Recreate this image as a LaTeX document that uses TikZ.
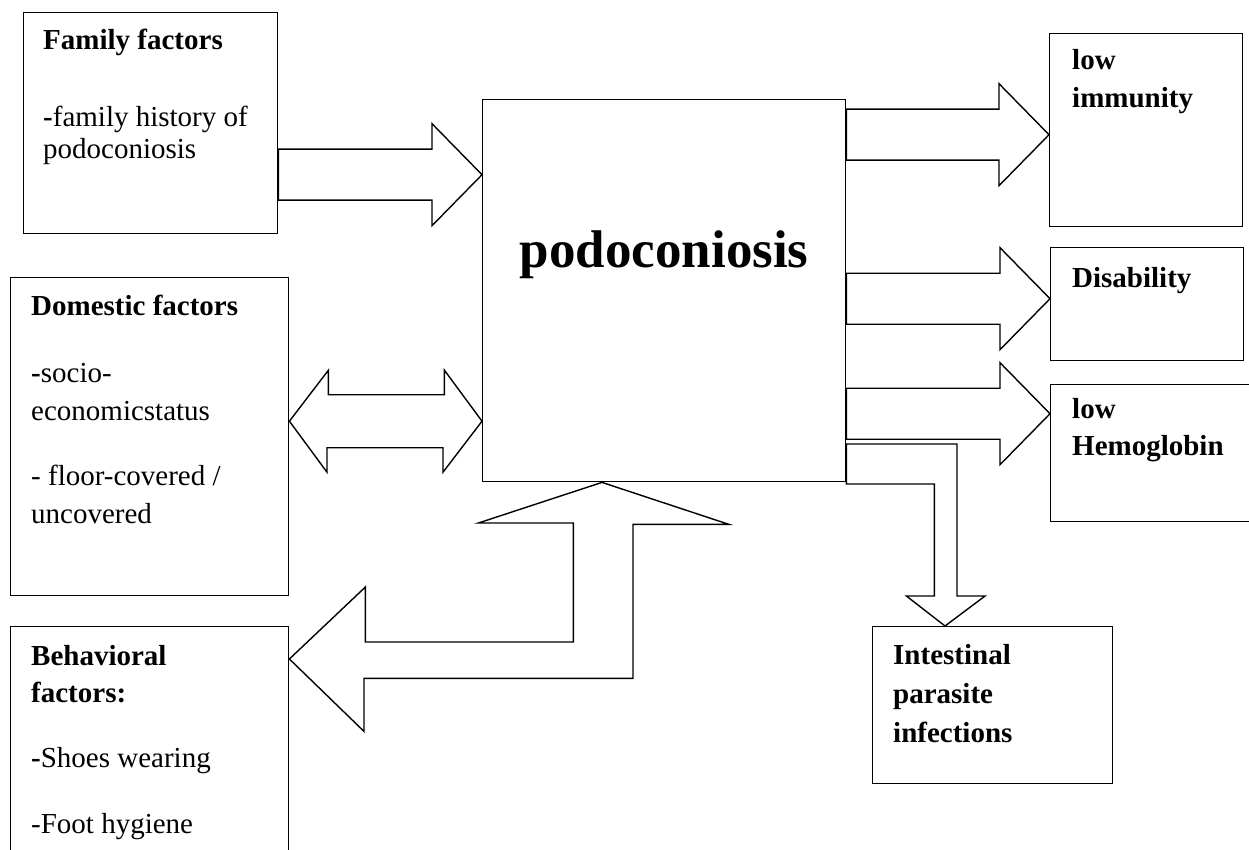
\documentclass[tikz,border=0pt]{standalone}
\usepackage{fontspec}
\setmainfont{Liberation Serif}
\usetikzlibrary{positioning,calc}

\begin{document}
\begin{tikzpicture}[x=1pt, y=-1pt,
    box/.style={draw, line width=1.4pt, inner sep=0pt, anchor=north west},
    blockarrow/.style={draw, line width=1.4pt, line join=miter},
    lbl/.style={anchor=base west, inner sep=0pt, font=\fontsize{29}{#1}\selectfont},
    lbl/.default=38]

  \useasboundingbox (0,0) rectangle (1249,850);

  % Factor boxes (left)
  \node[box, minimum width=254pt, minimum height=221pt] (fam) at (23,12) {};
  \node[box, minimum width=278pt, minimum height=318pt] (dom) at (10,277) {};
  \node[box, minimum width=278pt, minimum height=260pt] (beh) at (10,626) {};
  %
  % Centre
  \node[box, minimum width=363pt, minimum height=382pt] (cen) at (482,99) {};
  \node[anchor=base, inner sep=0pt, font=\fontsize{53}{60}\selectfont\bfseries] (title)
    at ($(cen.north)+(0,168)$) {podoconiosis};
  %
  % Outcome boxes (right)
  \node[box, minimum width=193pt, minimum height=193pt] (imm) at (1049,33) {};
  \node[box, minimum width=193pt, minimum height=113pt] (dis) at (1050,247) {};
  \node[box, minimum width=230pt, minimum height=137pt] (hem) at (1050,384) {};
  \node[box, minimum width=240pt, minimum height=157pt] (int) at (872,626) {};

  %% Labels
  \node[lbl=32] (famtxt) at ($(fam.north west)+(20,38)$)
    {\parbox[t]{240pt}{\textbf{Family factors}\\[45pt]\textbf{-}family history of\\podoconiosis}};
  \node[lbl] (domtxt) at ($(dom.north west)+(21,38)$)
    {\parbox[t]{250pt}{\textbf{Domestic factors}\\[29pt]\textbf{-}socio-\\economicstatus\\[27pt]- floor-covered /\\uncovered}};
  \node[lbl=37] (behtxt) at ($(beh.north west)+(21,39)$)
    {\parbox[t]{250pt}{\textbf{Behavioral}\\\textbf{factors:}\\[28pt]\textbf{-}Shoes wearing\\[29pt]-Foot hygiene}};
  \node[lbl] (immtxt) at ($(imm.north west)+(23,37)$) {\parbox[t]{170pt}{\bfseries low\\immunity}};
  \node[lbl] (distxt) at ($(dis.north west)+(22,40)$) {\parbox[t]{170pt}{\bfseries Disability}};
  \node[lbl=37] (hemtxt) at ($(hem.north west)+(22,34)$) {\parbox[t]{170pt}{\bfseries low\\Hemoglobin}};
  \node[lbl=39] (inttxt) at ($(int.north west)+(21,38)$) {\parbox[t]{200pt}{\bfseries Intestinal\\parasite\\infections}};

  %% Straight block arrows
  \foreach \from/\to/\dy in {fam/cen/-116, cen/imm/4.5, cen/dis/-5.5, cen/hem/-39.5}
    \draw[blockarrow] ($(\to.west)+(0,\dy)$) coordinate (tip) -- ++(-50,-51) -- ++(0,25.5) coordinate (a)
      -- (a -| \from.east) -- ++(0,51) coordinate (b) -- (b -| a) -- ++(0,25.5) -- cycle;

  % Double arrow: domestic <-> centre
  \draw[blockarrow] ($(dom.east)+(0,-15.5)$) coordinate (domtip) -- ++(39,-51) -- ++(0,24.5) -- ++(116,0)
    -- ++(0,-24.5) -- (cen.west |- domtip) -- ++(-39,51) -- ++(0,-24.5) -- ++(-116,0) -- ++(0,24.5) -- cycle;

  % Bent arrow: centre -> intestinal
  \draw[blockarrow] ($(int.north west)+(73,0)$) -- ++(40,-30) -- ++(-28,0) -- ++(0,-152) coordinate (a)
    -- (a -| cen.east) -- ++(0,40) -- ++(88,0) -- ++(0,112) -- ++(-28,0) -- cycle;

  % Bent double arrow: behavioral <-> centre
  \draw[blockarrow] ($(cen.south west)+(120,0)$) -- ++(127,42) -- ++(-96,0) -- ++(0,154) -- ++(-269,0)
    -- ++(0,53) -- ($(beh.north east)+(0,33)$) -- ++(76,-72) -- ++(0,55) -- ++(208,0) -- ++(0,-119)
    -- ++(-95,0) -- cycle;

\end{tikzpicture}
\end{document}
